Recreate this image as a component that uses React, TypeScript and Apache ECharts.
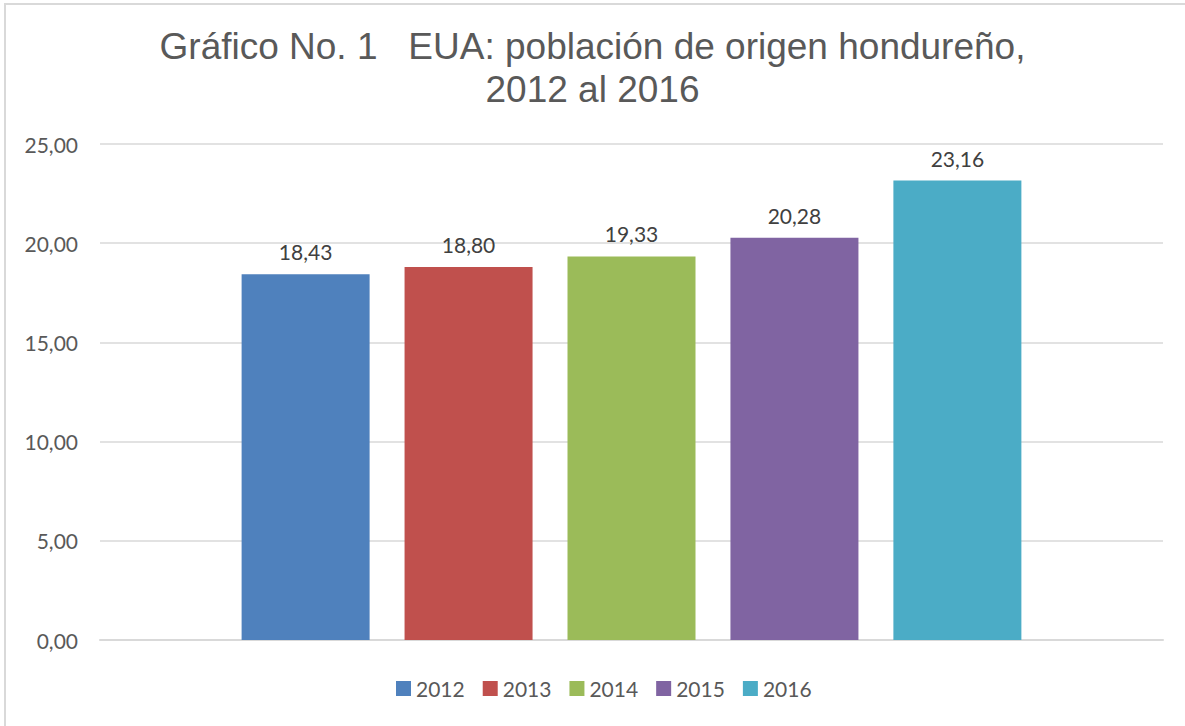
import React, { useEffect, useRef } from "react";
import * as echarts from "echarts";

const years = ["2012", "2013", "2014", "2015", "2016"];
const values = [18.43, 18.8, 19.33, 20.28, 23.16];
const colors = ["#4F81BD", "#C0504D", "#9BBB59", "#8064A2", "#4BACC6"];
const categories = [""];

const fmt = (v: number) => v.toFixed(2).replace(".", ",");

export default function App() {
  const ref = useRef<HTMLDivElement>(null);
  useEffect(() => {
    document.body.style.margin = "0";
    const chart = echarts.init(ref.current!, null, { renderer: "svg" });
    chart.setOption({
      animation: false,
      backgroundColor: "#ffffff",
      title: {
        text: "Gráfico No. 1   EUA: población de origen hondureño,\n2012 al 2016",
        left: "center",
        top: 20,
        textStyle: {
          fontFamily: "Liberation Sans",
          fontSize: 37,
          fontWeight: "normal",
          color: "#595959",
          lineHeight: 43,
        },
      },
      graphic: [
        {
          type: "rect",
          shape: { x: 5, y: 4, width: 1300, height: 900 },
          style: { fill: "none", stroke: "#d9d9d9", lineWidth: 2 },
          silent: true,
        },
      ],
      legend: {
        bottom: 22,
        left: 391,
        itemWidth: 15,
        itemHeight: 15,
        itemGap: 18,
        icon: "rect",
        textStyle: { fontFamily: "Lato", fontSize: 21, color: "#595959" },
        data: years,
      },
      grid: { left: 100, right: 22, top: 144, bottom: 86 },
      xAxis: {
        type: "category",
        data: categories,
        axisLine: { show: true, lineStyle: { color: "#d9d9d9", width: 2 } },
        axisTick: { show: false },
        axisLabel: { show: false },
      },
      yAxis: {
        type: "value",
        min: 0,
        max: 25,
        interval: 5,
        axisLine: { show: false },
        axisTick: { show: false },
        axisLabel: {
          formatter: (v: number) => fmt(v),
          fontFamily: "Lato",
          fontSize: 21,
          color: "#595959",
          margin: 22,
        },
        splitLine: { lineStyle: { color: "#d9d9d9", width: 1.5 } },
      },
      series: years.map((y, i) => ({
        name: y,
        type: "bar",
        data: [values[i]],
        barWidth: 128,
        barGap: "27.3%",
        itemStyle: { color: colors[i] },
        label: {
          show: true,
          position: "top",
          distance: 12,
          formatter: (p: any) => fmt(p.value),
          fontFamily: "Lato",
          fontSize: 21,
          color: "#404040",
        },
      })),
    });
    return () => chart.dispose();
  }, []);
  return <div ref={ref} style={{ width: 1185, height: 726 }} />;
}
